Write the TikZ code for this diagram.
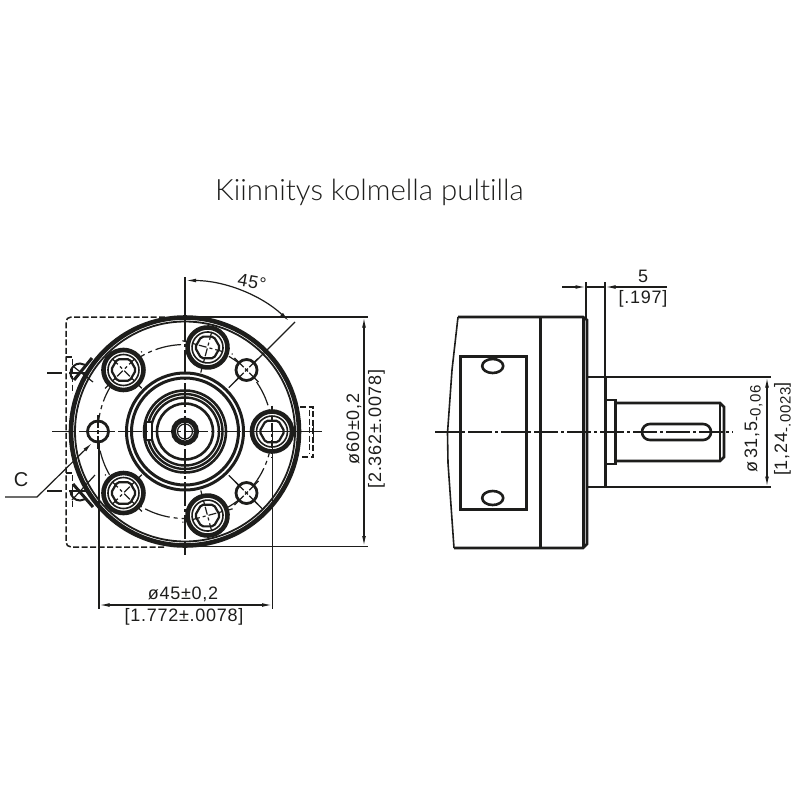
\documentclass[tikz,border=0pt]{standalone}
\usepackage{fontspec}
\setmainfont{Liberation Sans}
\newfontfamily\dimf[LetterSpace=4]{Liberation Sans}
\newfontfamily\ttlf[UprightFont={* Light},Ligatures=NoCommon]{Lato}
\usetikzlibrary{arrows.meta,shapes.geometric}
\definecolor{ink}{HTML}{1D1D1B}
\newcommand{\lowtext}[1]{\raisebox{-3.5pt}{\fontsize{15}{16}\selectfont #1}}
\tikzset{
  hw/.style={draw=ink,line width=3pt},
  mw/.style={draw=ink,line width=2pt},
  tw/.style={draw=ink,line width=1.2pt},
  dimline/.style={draw=ink,line width=1.2pt},
  dimarrow/.style={dimline,{Latex[length=10pt,width=3.8pt]}-{Latex[length=10pt,width=3.8pt]}},
  centerln/.style={draw=ink,line width=1.3pt,dash pattern=on 24pt off 3pt on 3pt off 3pt},
  bcircle/.style={draw=ink,line width=1.2pt,dash pattern=on 26pt off 4pt on 4pt off 4pt},
  hiddenln/.style={draw=ink,line width=1.5pt,dash pattern=on 6pt off 2.5pt},
  dimtext/.style={text=ink,font=\dimf\fontsize{18}{20}\selectfont,inner sep=0pt},
  titletext/.style={text=ink,font=\ttlf\fontsize{29.4}{32}\selectfont,inner sep=0pt},
}
\begin{document}
\begin{tikzpicture}[x=1pt,y=-1pt]
\useasboundingbox (0,0) rectangle (800,800);
\coordinate (c) at (185,431.5);

\node[titletext,anchor=base] (title) at (369.5,200) {Kiinnitys kolmella pultilla};

% --- front view: hidden outline
\draw[hiddenln,rounded corners=5pt] (165,317) -- (66,317) -- (66,547) -- (165,547);
\draw[hiddenln] (66,357) -- (72.5,357) -- (72.5,393);
\draw[hiddenln] (66,473) -- (72.5,473) -- (72.5,507);
\draw[hiddenln] (300,407) -- (313,407) -- (313,457) -- (300,457);
\draw[hiddenln] (309.5,410) -- (309.5,454);
\draw[tw] (305,431.5) -- (322,431.5) (313.5,425) -- (313.5,438);

% side ports
\draw[mw] (70.5,373) arc[start angle=-180,end angle=-60,radius=9.5];
\draw[mw] (70.5,373) arc[start angle=180,end angle=140,radius=9.5];
\draw[mw] (70.5,491) arc[start angle=180,end angle=60,radius=9.5];
\draw[mw,line width=3pt] (92,358) -- (74,380);
\draw[mw,line width=3pt] (73,484) -- (93,507);
\draw[tw] (47,373) -- (62,373) (69,373) -- (87,373);
\draw[tw] (47,491) -- (62,491) (69,491) -- (87,491);
\draw[tw] (74,367) -- (93,382);
\draw[tw] (72,500) -- (95,475);

% --- bolt circle
\draw[bcircle] (c) circle[radius=87];

% --- flange
\draw[draw=ink,line width=4.6pt] (c) circle[radius=114];
\draw[draw=ink,line width=1.8pt] (c) circle[radius=110];

% --- hub rings
\draw[hw] (c) circle[radius=58.5];
\draw[hw] (c) circle[radius=53.5];
\draw[mw,line width=2.6pt] (c) circle[radius=41];
\draw[mw,line width=2.4pt] (c) circle[radius=37.5];
\draw[mw,line width=2.4pt] (c) circle[radius=34];
\draw[mw,line width=2.6pt] (c) circle[radius=28];
\draw[draw=ink,line width=5pt] (c) circle[radius=11.5];
\draw[tw] (c) circle[radius=7.5];
\draw[mw,fill=white] (146,422) rectangle (152,440);

% --- bolts
\foreach \a in {0,75,135,225,285}{
  \begin{scope}[shift={(c)},rotate=\a,shift={(87,0)}]
    \fill[white] (0,0) circle[radius=22];
    \draw[draw=ink,line width=4.6pt] (0,0) circle[radius=20];
    \draw[draw=ink,line width=1.6pt] (0,0) circle[radius=15.5];
    \node[regular polygon,regular polygon sides=6,minimum size=25pt,inner sep=0pt,draw=ink,line width=2.2pt,rounded corners=2pt] (bolt\a) at (0,0) {};
    \draw[tw,dash pattern=on 8pt off 3pt on 3pt off 3pt] (-26,0) -- (26,0);
    \draw[tw,dash pattern=on 8pt off 3pt on 3pt off 3pt] (0,-26) -- (0,26);
  \end{scope}
}
% --- holes
\foreach \a in {45,-45,180}{
  \begin{scope}[shift={(c)},rotate=\a,shift={(87,0)}]
    \fill[white] (0,0) circle[radius=11];
    \draw[draw=ink,line width=2.8pt] (0,0) circle[radius=10.5];
    \draw[tw] (-16,0) -- (-4,0) (-2,0) -- (2,0) (4,0) -- (16,0);
    \draw[tw] (0,-17) -- (0,-4) (0,-2) -- (0,2) (0,4) -- (0,17);
  \end{scope}
}
\draw[tw] (c) ++(45:62) -- ++(45:14);
\draw[tw] (c) ++(45:98) -- ++(45:12);
\draw[tw] (c) ++(-45:62) -- ++(-45:14);

% --- centre lines front
\draw[centerln] (52,431.5) -- (322,431.5);
\draw[dimline] (185,277) -- (185,317);
\draw[centerln] (185,317) -- (185,555);

% --- 45 degree
\draw[dimline] (253,364) -- (295,322);
\draw[dimarrow] (186,280.5) arc[start angle=-90,end angle=-47,radius=151];
\node[dimtext,rotate=-10] (angle) at (252,282) {45°};

% --- ø60
\coordinate (e1) at (368,317);
\coordinate (e2) at (368,546.5);
\draw[dimline] (185,317) -- (e1);
\draw[dimline] (185,546.5) -- (e2);
\draw[dimarrow] (364,317.5) -- (364,546);
\node[dimtext,rotate=90] (d60a) at (354,429) {ø60±0,2};
\node[dimtext,rotate=90] (d60b) at (376.5,429) {[2.362±.0078]};

% --- ø45
\draw[dimline] (99,441) -- (99,609);
\draw[dimline] (272.5,431) -- (272.5,609);
\draw[dimarrow] (99.5,605) -- (272,605);
\node[dimtext] (d45a) at (183,594.5) {ø45±0,2};
\node[dimtext] (d45b) at (184,617) {[1.772±.0078]};

% --- C
\node[dimtext,font=\fontsize{20}{22}\selectfont] (lc) at (21,480) {C};
\coordinate (cs) at (5,497);
\coordinate (cm) at (37,497);
\coordinate (ct) at (92,443);
\draw[dimline,-{Latex[length=10pt,width=3.8pt]}] (cs) -- (cm) -- (ct);

% --- side view body
\draw[tw,line width=1.6pt] (458,317) -- (452,370) -- (447.5,433) -- (448,463) -- (454,548);
\draw[hw,line width=2.6pt] (458,317) -- (583,317) -- (587,320) -- (587,544) -- (583,548) -- (454,548);
\draw[hw] (540,317) -- (540,548);
\draw[hw] (583.5,317) -- (583.5,548);
\draw[hw] (460.5,356) rectangle (526,509);
\draw[mw,line width=2.6pt] (492.7,366) ellipse[x radius=10.5,y radius=7];
\draw[mw,line width=2.6pt] (492.7,498) ellipse[x radius=10.5,y radius=7];

% --- shaft
\draw[mw] (587,377) -- (605.5,377);
\draw[mw] (587,487) -- (605.5,487);
\draw[hw,line width=2.4pt] (605.5,377) -- (605.5,487);
\draw[mw,line width=2.4pt] (605.5,400) -- (615.5,400) -- (615.5,464) -- (605.5,464);
\draw[hw,line width=2.6pt] (615.5,403) -- (720,403) -- (724,407) -- (724,457) -- (720,461) -- (615.5,461);
\draw[mw] (720,403) -- (720,461);
\draw[mw,line width=2.6pt,rounded corners=7.9pt] (642,424) rectangle (711,440);

% --- centre line side
\draw[centerln] (435,432) -- (733,432);

% --- dim 5
\coordinate (f1) at (586,282);
\coordinate (f2) at (605,282);
\draw[dimline] (f1) -- (586,320);
\draw[dimline] (f2) -- (605,377);
\draw[dimline,-{Latex[length=10pt,width=3.8pt]}] (562,287) -- (585.5,287);
\draw[dimline] (586,287) -- (605,287);
\draw[dimline,-{Latex[length=10pt,width=3.8pt]}] (667,287) -- (605.5,287);
\node[dimtext] (d5a) at (643,276) {5};
\node[dimtext] (d5b) at (643,299) {[.197]};

% --- dim 31.5
\draw[dimline] (606,377) -- (771,377);
\draw[dimline] (606,487) -- (771,487);
\draw[dimarrow] (767,377.5) -- (767,486.5);
\node[dimtext,rotate=90] (d31a) at (753.5,429) {ø\,31,5\lowtext{-0,06}};
\node[dimtext,rotate=90] (d31b) at (782.5,429) {[1,24\lowtext{-.0023}]};
\end{tikzpicture}
\end{document}
